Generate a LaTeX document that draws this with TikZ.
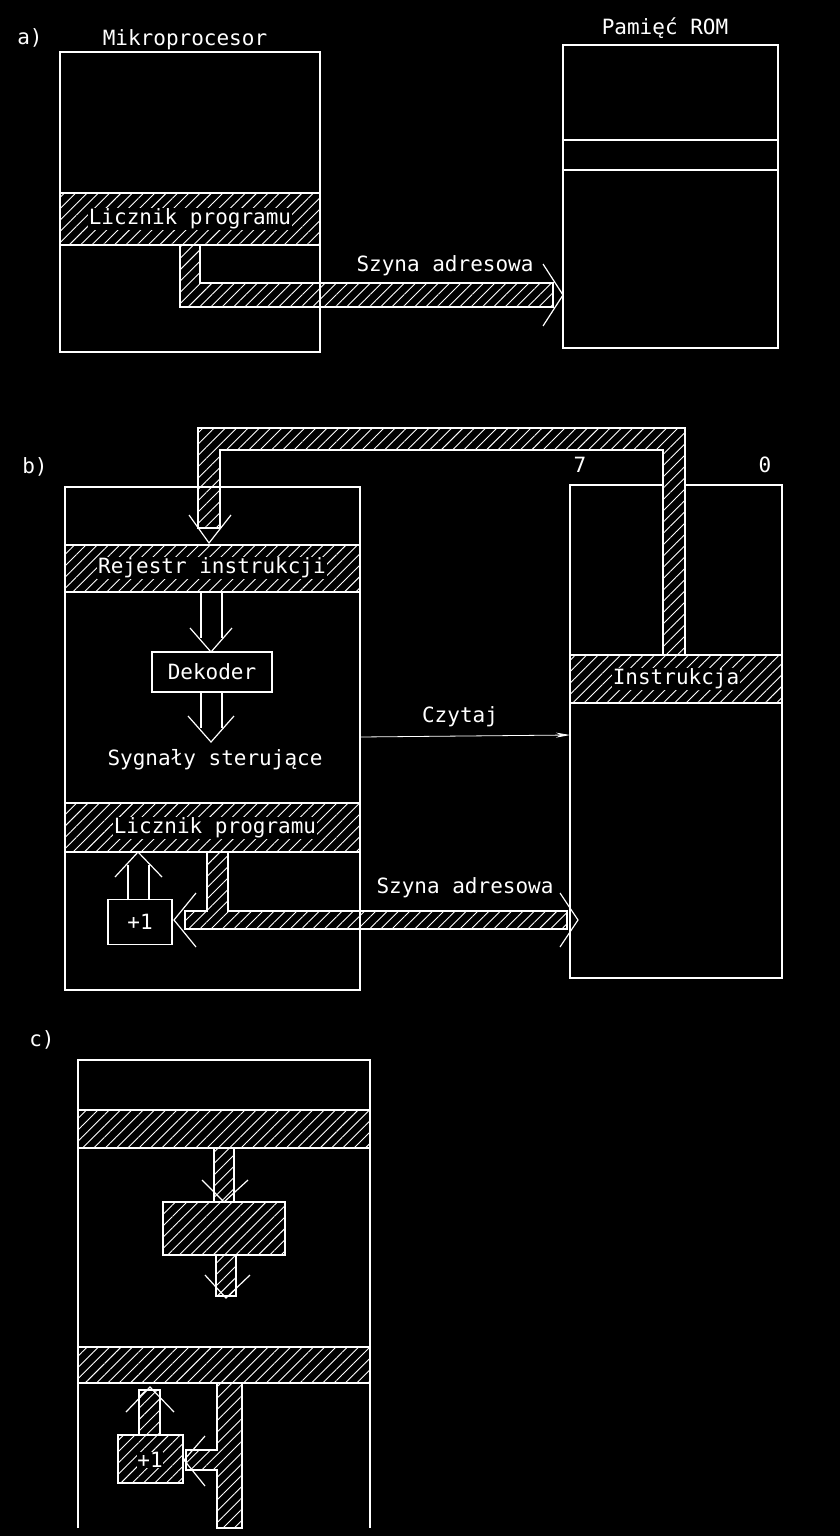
\documentclass[tikz,border=0pt]{standalone}
\usepackage{fontspec}
\setmonofont{DejaVu Sans Mono}
\usetikzlibrary{patterns.meta,arrows.meta}
\tikzset{
  ln/.style={draw=white,line width=1.2pt},
  hatch/.style={ln,pattern={Lines[angle=45,distance=8pt,line width=0.9pt]},pattern color=white},
  lbl/.style={text=white,font=\ttfamily\fontsize{21}{22}\selectfont,inner sep=2pt},
  blbl/.style={lbl,fill=black,inner sep=1pt},
  vhead/.style={ln,line join=miter}
}
\begin{document}
\begin{tikzpicture}[x=1pt,y=-1pt]
\fill[black] (0,0) rectangle (840,1536);
\useasboundingbox (0,0) rectangle (840,1536);
% ===== a)
\node[lbl] (la) at (30,38) {a)};
\node[lbl] (lmik) at (185,40) {Mikroprocesor};
\node[lbl] (lrom) at (665,28) {Pamięć ROM};
\draw[ln] (60,52) rectangle (320,352);
\draw[hatch] (60,193) rectangle (320,245);
\node[blbl] (pca) at (190,219) {Licznik programu};
\draw[hatch] (180,245) -- (200,245) -- (200,283) -- (553,283) -- (553,307) -- (180,307) -- cycle;
\draw[vhead] (543,264) -- (563,295) -- (543,326);
\node[lbl] (sza) at (445,266) {Szyna adresowa};
\draw[ln] (563,45) rectangle (778,348);
\draw[ln] (563,140) -- (778,140);
\draw[ln] (563,170) -- (778,170);
% ===== b)
\node[lbl] (lb) at (35,467) {b)};
\draw[ln] (65,487) rectangle (360,990);
\draw[hatch] (65,545) rectangle (360,592);
\node[blbl] (ri) at (212,568) {Rejestr instrukcji};
\draw[ln] (201,592) -- (201,638); \draw[ln] (222,592) -- (222,638);
\draw[vhead] (190,628) -- (211,652) -- (232,628);
\node[ln,lbl,minimum width=120pt,minimum height=40pt] (dek) at (212,672) {Dekoder};
\draw[ln] (201,692) -- (201,728); \draw[ln] (222,692) -- (222,728);
\draw[vhead] (188,716) -- (211,742) -- (234,716);
\node[lbl] (syg) at (215,760) {Sygnały sterujące};
\draw[hatch] (65,803) rectangle (360,852);
\node[blbl] (pcb) at (215,828) {Licznik programu};
\node[ln,lbl,minimum width=64pt,minimum height=45pt] (p1) at (140,922) {+1};
\draw[ln] (128,900) -- (128,865); \draw[ln] (149,900) -- (149,865);
\draw[vhead] (115,877) -- (138,852) -- (162,877);
\draw[hatch] (207,852) -- (228,852) -- (228,911) -- (567,911) -- (567,929) -- (185,929) -- (185,911) -- (207,911) -- cycle;
\draw[vhead] (560,893) -- (578,920) -- (560,947);
\draw[vhead] (196,893) -- (174,920) -- (196,947);
\node[lbl] (szb) at (465,888) {Szyna adresowa};
% ROM b
\draw[ln] (663,485) -- (570,485) -- (570,978) -- (782,978) -- (782,485) -- (685,485);
\draw[hatch] (570,655) rectangle (782,703);
\node[blbl] (ins) at (676,679) {Instrukcja};
\node[lbl] (n7) at (580,465) {7};
\node[lbl] (n0) at (765,465) {0};
\draw[hatch] (198,528) -- (198,428) -- (685,428) -- (685,655) -- (663,655) -- (663,450) -- (220,450) -- (220,528) -- cycle;
\draw[vhead] (189,515) -- (209,543) -- (231,515);
% Czytaj
\coordinate (cz1) at (360,737);
\coordinate (cz2) at (570,735);
\draw[ln,line width=0.8pt,-{Stealth[length=14pt,width=5pt]}] (cz1) -- (cz2);
\node[lbl] (czy) at (460,717) {Czytaj};
% ===== c)
\node[lbl] (lc) at (42,1040) {c)};
\draw[ln] (78,1528) -- (78,1060) -- (370,1060) -- (370,1528);
\draw[ln] (78,1110) -- (370,1110);
\draw[hatch] (78,1110) rectangle (370,1148);
\draw[hatch] (78,1347) rectangle (370,1383);
\draw[hatch] (214,1148) rectangle (234,1202);
\draw[vhead] (202,1180) -- (224,1202) -- (248,1180);
\draw[hatch] (163,1202) rectangle (285,1255);
\draw[hatch] (216,1255) rectangle (236,1296);
\draw[vhead] (205,1275) -- (226,1298) -- (250,1275);
\draw[hatch] (118,1435) rectangle (183,1483);
\node[lbl,text=white,fill=black,inner sep=0.5pt] (p1c) at (150,1460) {+1};
\draw[hatch] (139,1435) rectangle (160,1390);
\draw[vhead] (126,1412) -- (150,1387) -- (174,1412);
\draw[hatch] (217,1383) -- (242,1383) -- (242,1528) -- (217,1528) -- (217,1470) -- (186,1470) -- (186,1450) -- (217,1450) -- cycle;
\draw[vhead] (205,1436) -- (184,1460) -- (205,1486);
\end{tikzpicture}
\end{document}
